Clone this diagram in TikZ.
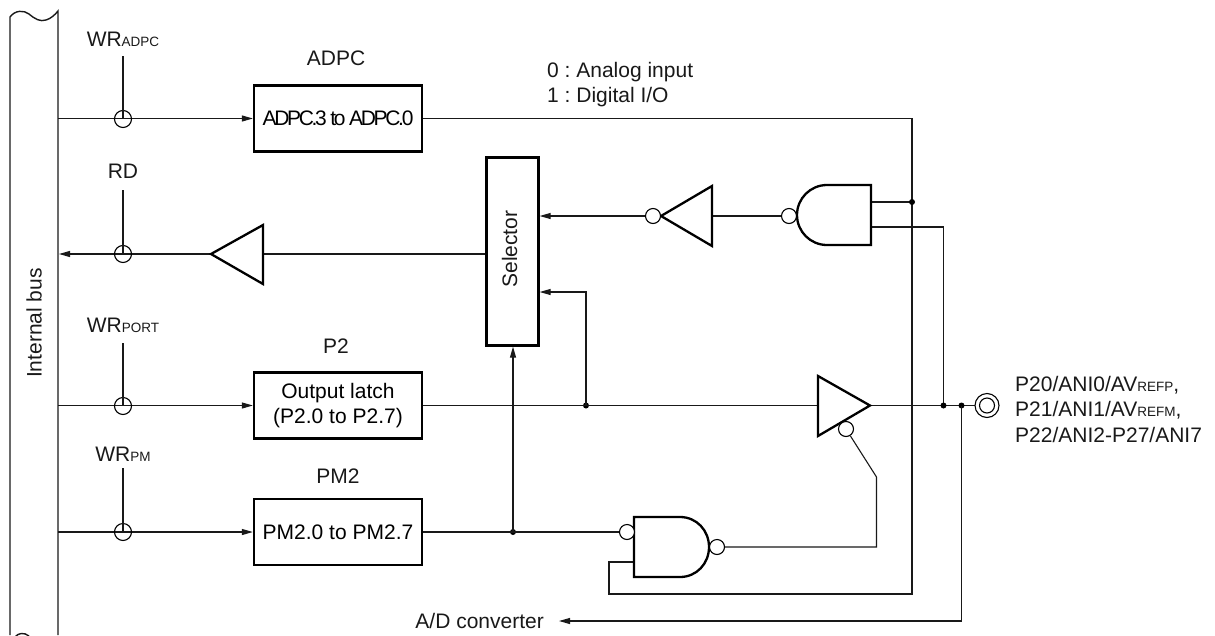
\documentclass[tikz,border=0pt]{standalone}
\usepackage{fontspec}
\setmainfont{Liberation Sans}
\usetikzlibrary{arrows.meta}
\newcommand{\subs}[1]{{\fontsize{13.5}{13.5}\selectfont #1}}
\tikzset{
  wire/.style={line width=1.1pt,black!90},
  sig/.style={wire,-{Triangle[length=11pt,width=6pt]}},
  thick box/.style={draw,line width=2.3pt,black,inner sep=0pt,fill=white},
  regbox/.style={thick box,minimum width=168pt,minimum height=66pt,align=center,font=\fontsize{21}{25.5}\selectfont},
  gatepath/.style={draw,line width=2.3pt,black,fill=white,line join=miter},
  bub/.style={circle,draw,line width=1.1pt,fill=white,minimum size=15pt,inner sep=0pt},
  gate/.style={circle,draw,line width=1.1pt,minimum size=17pt,inner sep=0pt},
  dot/.style={circle,fill=black,minimum size=6pt,inner sep=0pt},
  lab/.style={inner sep=0pt,font=\fontsize{21}{25.5}\selectfont,black!90},
}
\begin{document}
\frenchspacing
\begin{tikzpicture}[x=1pt,y=-1pt]
\useasboundingbox (0,0) rectangle (1215,635);
% internal bus
\draw[wire,line width=1.4pt] (10,635) -- (10,17) .. controls (15,10) and (24,10) .. (29,14)
   .. controls (35,19) and (40,22) .. (46,20) .. controls (50,19) and (55,15) .. (58,11) -- (58,635);
\begin{scope}
\clip (0,625) rectangle (58,635);
\draw[wire,line width=1.4pt] (15,637) .. controls (18,633) and (24,632) .. (29,636);
\end{scope}
\node[lab,rotate=90] (bus) at (34,323) {Internal bus};
% boxes
\node[regbox] (adpc) at (338,118.5) {\addfontfeature{LetterSpace=-11}ADPC.3 to ADPC.0};
\node[regbox] (p2) at (338,405.5) {Output latch\\(P2.0 to P2.7)};
\node[regbox] (pm2) at (338,532) {PM2.0 to PM2.7};
\node[thick box,minimum width=52pt,minimum height=188pt] (sel) at (512.5,251.5) {};
\node[lab,rotate=90] (seltext) at (509.5,249) {Selector};
\node[lab] (ladpc) at (336,58) {ADPC};
\node[lab] (lp2) at (336,346) {P2};
\node[lab] (lpm2) at (338,476) {PM2};
% bus-side anchors
\coordinate (b1) at (58,118.5);
\coordinate (b3) at (58,405.5);
\coordinate (b4) at (58,532);
% bus wires
\draw[sig] (b1) -- (adpc.west);
\draw[sig] (sel.west |- 0,254) -- (59,254);
\draw[sig] (b3) -- (p2.west);
\draw[sig] (b4) -- (pm2.west);
% write gates
\node[lab] (wr1) at (123,39) {WR\subs{ADPC}};
\node[lab] (rd) at (123,171) {RD};
\node[lab] (wr3) at (123,325.5) {WR\subs{PORT}};
\node[lab] (wr4) at (123,454.5) {WR\subs{PM}};
\node[gate] (g1) at (123,119) {};
\node[gate] (g2) at (123,254) {};
\node[gate] (g3) at (123,406) {};
\node[gate] (g4) at (123,532) {};
\coordinate (t1) at (123,56);\coordinate (t2) at (123,190);\coordinate (t3) at (123,343);\coordinate (t4) at (123,468);
\draw[wire] (t1) -- (g1.center);
\draw[wire] (t2) -- (g2.center);
\draw[wire] (t3) -- (g3.center);
\draw[wire] (t4) -- (g4.center);
% read buffer
\path[gatepath] (263,225) -- (211,254) -- (263,284) -- cycle;
% inverter + NAND top
\coordinate (j1) at (912,118.5);
\coordinate (j1b) at (912,594);
\draw[wire] (adpc.east) -- (j1) -- (j1b) -- (609,594) -- (609,562) -- (634,562);
\draw[wire] (871,227) -- (943.5,227) -- (943.5,406);
\draw[wire] (871,202) -- (912,202);
\node[dot] (d1) at (912,202) {};
\draw[sig] (712,216) -- (sel.east |- 0,216);
\draw[wire] (712,216) -- (789,216);
\path[gatepath] (712,186) -- (661,216) -- (712,246) -- cycle;
\node[bub] (inv) at (653,216) {};
\path[gatepath] (871,185) -- (827,185) .. controls (810.4,185) and (797,198.4) .. (797,215)
   .. controls (797,231.6) and (810.4,245) .. (827,245) -- (871,245) -- cycle;
\node[bub] (nb) at (789,216) {};
% latch output
\node[dot] (d2) at (586,405.5) {};
\draw[sig] (d2.center) -- (586,292) -- (sel.east |- 0,292);
\node[dot] (d3) at (513,532) {};
\draw[sig] (d3.center) -- (sel.south -| d3);
\coordinate (pin) at (975,405.5);
\draw[wire] (p2.east) -- (pin);
\path[gatepath] (818,376) -- (870,405.5) -- (818,436) -- cycle;
\node[dot] (d4) at (943.5,405.5) {};
\node[dot] (d5) at (961.5,405.5) {};
\node[circle,draw,line width=1.1pt,minimum size=24pt,inner sep=0pt,fill=white] (out1) at (987,405.5) {};
\node[circle,draw,line width=1.1pt,minimum size=15pt,inner sep=0pt] (out2) at (987,405.5) {};
\draw[wire] (d5.center) -- (961.5,621);
\draw[sig] (961.5,621) -- (559,621);
% bottom NAND
\draw[wire] (pm2.east) -- (627,532);
\path[gatepath] (634,517) -- (680,517) .. controls (696.6,517) and (709,530.4) .. (709,547)
   .. controls (709,563.6) and (696.6,577) .. (680,577) -- (634,577) -- cycle;
\node[bub] (b5) at (627,532) {};
\node[bub] (b6) at (717,547) {};
\node[bub] (b7) at (846,429) {};
\draw[wire] (b6) -- (876.5,547) -- (876.5,477) -- (b7);
% texts
\node[lab,anchor=base west] (t0) at (547,77) {0 : Analog input};
\node[lab,anchor=base west] (t1l) at (547,102) {1 : Digital I/O};
\node[lab,anchor=base east] (ad) at (544,628) {A/D converter};
\node[lab,anchor=base west] (o1) at (1015,391) {P20/ANI0/AV\subs{REFP},};
\node[lab,anchor=base west] (o2) at (1015,416.5) {P21/ANI1/AV\subs{REFM},};
\node[lab,anchor=base west] (o3) at (1015,442) {P22/ANI2-P27/ANI7};
\end{tikzpicture}
\end{document}
